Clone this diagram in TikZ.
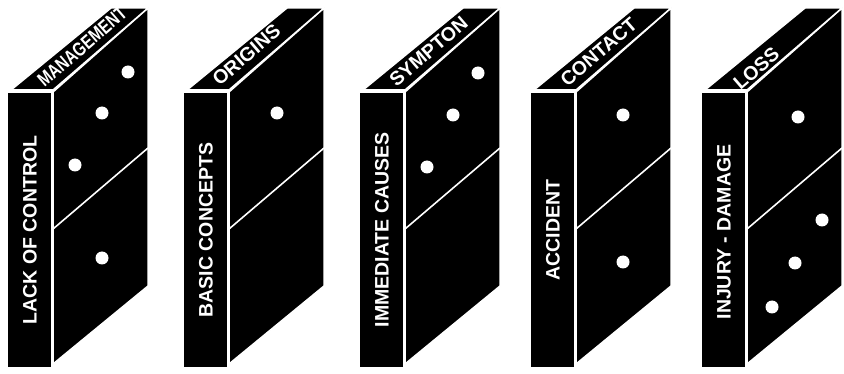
\documentclass[tikz,border=0pt]{standalone}
\usepackage{fontspec}
\setmainfont{Liberation Sans}
\usepackage{tikz}
\usetikzlibrary{calc}
\tikzset{
	face/.style={fill=black, draw=white, line width=1.5pt, line join=round},
	divider/.style={white, line width=1.6pt},
	pip/.style={white},
	frontlabel/.style={white, rotate=90, inner sep=0pt,
		font=\fontsize{19.5}{20}\selectfont\bfseries},
	toplabel/.style={white, rotate=40.8, anchor=west, inner sep=0pt,
		font=\fontsize{19.5}{20}\selectfont\bfseries},
}

\begin{document}
\begin{tikzpicture}[x=1pt, y=-1pt]
	\useasboundingbox (0,0) rectangle (844,374);
	
	% The five dominoes (front, side and top faces)
	\foreach \xo in {7,183,359,530,701} {
		\begin{scope}[shift={(\xo,0)}]
			\draw[face] (0,92) rectangle (45,368);
			\draw[face] (46,92) -- (46,364) -- (141,286) -- (141,8) -- cycle;
			\draw[face] (4,90) -- (46,90) -- (141,8) -- (104,8) -- cycle;
			% line between the two halves
			\draw[divider] (46,229) -- (141,148);
		\end{scope}
	}
	
	% Domino 1
	\node[frontlabel] (control) at (30,230) {LACK OF CONTROL};
	\node[toplabel] (management) at (40,83) {\scalebox{0.78}[1]{MANAGEMENT}};
	\fill[pip] (128,72) circle (6.5);
	\fill[pip] (102,113) circle (6.5);
	\fill[pip] (75,165) circle (6.5);
	\fill[pip] (102,258) circle (6.5);
	
	% Domino 2
	\node[frontlabel] (concepts) at (206,230) {BASIC CONCEPTS};
	\node[toplabel] (origins) at (215,82) {ORIGINS};
	\fill[pip] (277,113) circle (6.5);
	
	% Domino 3
	\node[frontlabel] (causes) at (382,230) {IMMEDIATE CAUSES};
	\node[toplabel] (sympton) at (392,83) {SYMPTON};
	\fill[pip] (478,73) circle (6.5);
	\fill[pip] (453,115) circle (6.5);
	\fill[pip] (427,167) circle (6.5);
	
	% Domino 4
	\node[frontlabel] (accident) at (553,230) {ACCIDENT};
	\node[toplabel] (contact) at (563,83) {CONTACT};
	\fill[pip] (623,115) circle (6.5);
	\fill[pip] (623,262) circle (6.5);
	
	% Domino 5
	\node[frontlabel] (injury) at (724,232) {INJURY - DAMAGE};
	\node[toplabel] (loss) at (736,86) {LOSS};
	\fill[pip] (798,117) circle (6.5);
	\fill[pip] (822,220) circle (6.5);
	\fill[pip] (795,263) circle (6.5);
	\fill[pip] (772,307) circle (6.5);
	
\end{tikzpicture}
\end{document}
